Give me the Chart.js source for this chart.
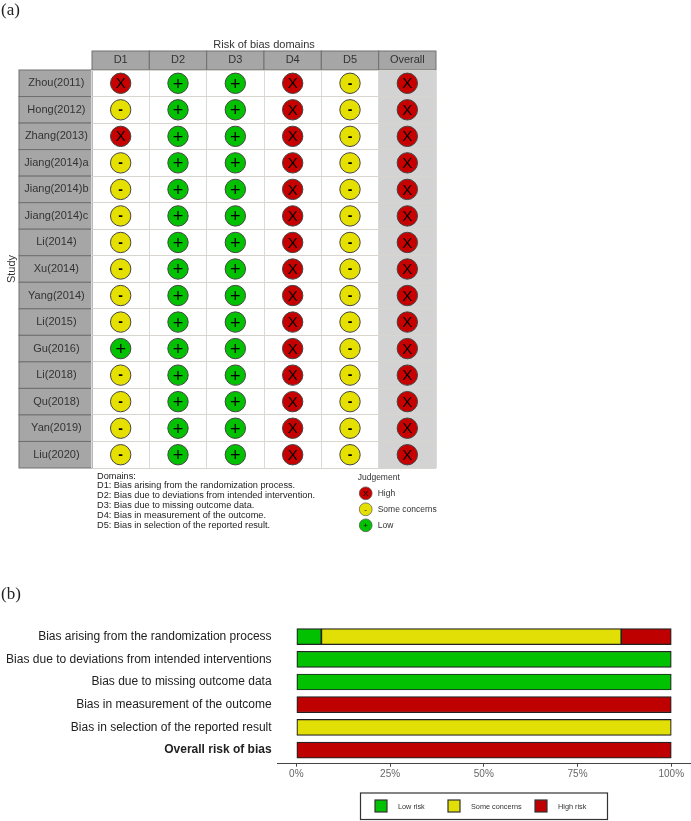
<!DOCTYPE html>
<html><head><meta charset="utf-8">
<script src="https://cdn.jsdelivr.net/npm/chart.js@4"></script>
<style>
html,body{margin:0;padding:0;background:#fff;}
#wrap{position:relative;width:691px;height:821px;overflow:hidden;}
canvas{position:absolute;left:0;}
.tag{position:absolute;left:1px;font:17px "Liberation Serif",serif;color:#222;z-index:2;}
</style></head><body>
<div id="wrap">
<canvas id="a" width="691" height="540" style="top:0"></canvas>
<canvas id="b" width="691" height="281" style="top:540px"></canvas>
<div class="tag" style="top:0px">(a)</div>
<div class="tag" style="top:584px">(b)</div>
</div>
<script>
const domains = ['D1','D2','D3','D4','D5','Overall'];
const studies = ['Zhou(2011)','Hong(2012)','Zhang(2013)','Jiang(2014)a','Jiang(2014)b','Jiang(2014)c','Li(2014)','Xu(2014)','Yang(2014)','Li(2015)','Gu(2016)','Li(2018)','Qu(2018)','Yan(2019)','Liu(2020)'];
const d1Judgement = ['H','S','H','S','S','S','S','S','S','S','L','S','S','S','S'];
const d2Judgement = ['L','L','L','L','L','L','L','L','L','L','L','L','L','L','L'];
const d3Judgement = ['L','L','L','L','L','L','L','L','L','L','L','L','L','L','L'];
const d4Judgement = ['H','H','H','H','H','H','H','H','H','H','H','H','H','H','H'];
const d5Judgement = ['S','S','S','S','S','S','S','S','S','S','S','S','S','S','S'];
const overallJudgement = ['H','H','H','H','H','H','H','H','H','H','H','H','H','H','H'];
const domainNotes = ['Domains:','D1: Bias arising from the randomization process.','D2: Bias due to deviations from intended intervention.','D3: Bias due to missing outcome data.','D4: Bias in measurement of the outcome.','D5: Bias in selection of the reported result.'];
const summaryCategories = ['Bias arising from the randomization process','Bias due to deviations from intended interventions','Bias due to missing outcome data','Bias in measurement of the outcome','Bias in selection of the reported result','Overall risk of bias'];
const lowRisk = [6.67,100,100,0,0,0];
const someConcerns = [80,0,0,0,100,0];
const highRisk = [13.33,0,0,100,0,100];
const percentTicks = [0,25,50,75,100];

const SANS = '"Liberation Sans", Arial, sans-serif';
const RED='#C70000', YEL='#E6E000', GRN='#02C100';
const cols=[d1Judgement,d2Judgement,d3Judgement,d4Judgement,d5Judgement,overallJudgement];
function pts(code){const o=[];cols.forEach((c,i)=>c.forEach((v,j)=>{if(v===code)o.push({x:domains[i],y:studies[j]});}));return o;}
const kinds=[{code:'H',label:'High',sym:'X',color:RED,font:'15px '+SANS,dy:1},{code:'S',label:'Some concerns',sym:'-',color:YEL,font:'bold 14px '+SANS,dy:0.5},{code:'L',label:'Low',sym:'+',color:GRN,font:'18px '+SANS,dy:1.5}];

const panelA={id:'panelA',
 beforeDraw(c){
  const {ctx,chartArea:a,scales:{x,y}}=c;
  const w=Math.abs(x.getPixelForValue(1)-x.getPixelForValue(0)), h=Math.abs(y.getPixelForValue(1)-y.getPixelForValue(0));
  ctx.save();
  ctx.fillStyle='#D3D3D3';
  const ox=x.getPixelForValue(5);
  ctx.fillRect(ox-w/2,a.top,w,a.height);
  ctx.fillStyle='#A6A6A6';ctx.strokeStyle='#707070';ctx.lineWidth=1;
  domains.forEach((d,i)=>{const p=x.getPixelForValue(i);ctx.fillRect(p-w/2,a.top-19,w,19);ctx.strokeRect(p-w/2,a.top-19,w,19);});
  studies.forEach((s,i)=>{const p=y.getPixelForValue(i);ctx.fillRect(19,p-h/2,a.left-19,h);ctx.strokeRect(19,p-h/2,a.left-19,h);});
  ctx.restore();
 },
 afterDatasetsDraw(c){
  const {ctx}=c;
  ctx.save();ctx.textAlign='center';ctx.textBaseline='middle';ctx.fillStyle='#000';
  kinds.forEach((k,i)=>{ctx.font=k.font;c.getDatasetMeta(i).data.forEach(e=>{ctx.fillText(k.sym,e.x,e.y+k.dy);});});
  ctx.restore();
 },
 afterDraw(c){
  const {ctx}=c;
  ctx.save();ctx.textBaseline='middle';ctx.textAlign='left';ctx.fillStyle='#222';ctx.font='9.2px '+SANS;
  domainNotes.forEach((t,i)=>ctx.fillText(t,97,476+i*9.95));
  ctx.fillStyle='#333';ctx.font='8.5px '+SANS;
  ctx.fillText('Judgement',357.7,477.3);
  kinds.forEach((k,i)=>{const py=493.3+i*16;
   ctx.beginPath();ctx.arc(365.7,py,6.4,0,Math.PI*2);ctx.fillStyle=k.color;ctx.fill();ctx.strokeStyle='#555';ctx.lineWidth=.7;ctx.stroke();
   ctx.fillStyle='#000';ctx.font='8px '+SANS;ctx.textAlign='center';ctx.fillText(k.sym,365.7,py+.5);
   ctx.fillStyle='#333';ctx.font='8.5px '+SANS;ctx.textAlign='left';ctx.fillText(k.label,377.7,py);});
  ctx.restore();
 }};

new Chart(document.getElementById('a'),{type:'scatter',
 data:{datasets:kinds.map(k=>({label:k.label,data:pts(k.code),pointStyle:'circle',pointRadius:10.2,pointHoverRadius:10.2,backgroundColor:k.color,borderColor:'#444',borderWidth:1}))},
 options:{responsive:false,animation:false,devicePixelRatio:1,
  layout:{padding:{left:5,right:255,top:38.5,bottom:72}},
  plugins:{legend:{display:false},tooltip:{enabled:false}},
  scales:{
   x:{type:'category',labels:domains,position:'top',offset:true,
      afterFit(s){s.height=31.5;},
      title:{display:true,text:'Risk of bias domains',color:'#333',font:{family:SANS,size:11},padding:0},
      ticks:{color:'#333',font:{family:SANS,size:11},padding:3,maxRotation:0,autoSkip:false},
      grid:{offset:true,drawTicks:false,color:'#D5DDD5',lineWidth:1},border:{display:false}},
   y:{type:'category',labels:studies,offset:true,
      afterFit(s){s.width=87;},
      title:{display:true,text:'Study',color:'#333',font:{family:SANS,size:11},padding:0},
      ticks:{color:'#333',font:{family:SANS,size:11},padding:3.5,crossAlign:'center',autoSkip:false},
      grid:{offset:true,drawTicks:false,color:'#D8D4D0',lineWidth:1},border:{display:false}}
  }},
 plugins:[panelA]});

const panelB={id:'panelB',afterDraw(c){
  const {ctx}=c,items=c.data.datasets;
  const xs=[375,448,535],t=[398,471,558];
  ctx.save();ctx.strokeStyle='#333';ctx.lineWidth=1.2;ctx.strokeRect(360.5,253,247,26.5);
  ctx.textBaseline='middle';ctx.textAlign='left';ctx.font='7.3px '+SANS;
  items.forEach((d,i)=>{ctx.fillStyle=d.backgroundColor;ctx.fillRect(xs[i],260,12,12);ctx.strokeStyle='#333';ctx.strokeRect(xs[i],260,12,12);
    ctx.fillStyle='#333';ctx.fillText(d.label,t[i],266.5);});
  ctx.restore();
}};
const barStyle={barThickness:16,borderColor:'#222',borderWidth:1.2,borderSkipped:false};
const nz=a=>a.map(v=>v===0?null:v);
new Chart(document.getElementById('b'),{type:'bar',
 data:{labels:summaryCategories,datasets:[
  {label:'Low risk',data:nz(lowRisk),backgroundColor:GRN,...barStyle},
  {label:'Some concerns',data:nz(someConcerns),backgroundColor:'#E2DF07',...barStyle},
  {label:'High risk',data:nz(highRisk),backgroundColor:'#BF0000',...barStyle}]},
 options:{indexAxis:'y',responsive:false,animation:false,devicePixelRatio:1,
  layout:{padding:{left:0,right:1,top:83,bottom:0}},
  plugins:{legend:{display:false},tooltip:{enabled:false}},
  scales:{
   x:{stacked:true,min:-5,max:105,afterBuildTicks(s){s.ticks=percentTicks.map(v=>({value:v}));},
      afterFit(s){s.height=57.3;},
      ticks:{callback:v=>v+'%',color:'#666',font:{family:SANS,size:10},padding:2,maxRotation:0},
      grid:{drawOnChartArea:false,drawTicks:true,tickLength:3,color:'#444'},border:{color:'#444',width:1}},
   y:{stacked:true,afterFit(s){s.width=277.6;},
      afterUpdate(s){s._startValue=-0.6;s._valueRange=6.2;},
      ticks:{color:'#222',padding:6,autoSkip:false,font:c=>({family:SANS,size:12,weight:c.index===5?'bold':'normal'})},
      grid:{display:false,drawTicks:false},border:{display:false}}
  }},
 plugins:[panelB]});
</script>
</body></html>
